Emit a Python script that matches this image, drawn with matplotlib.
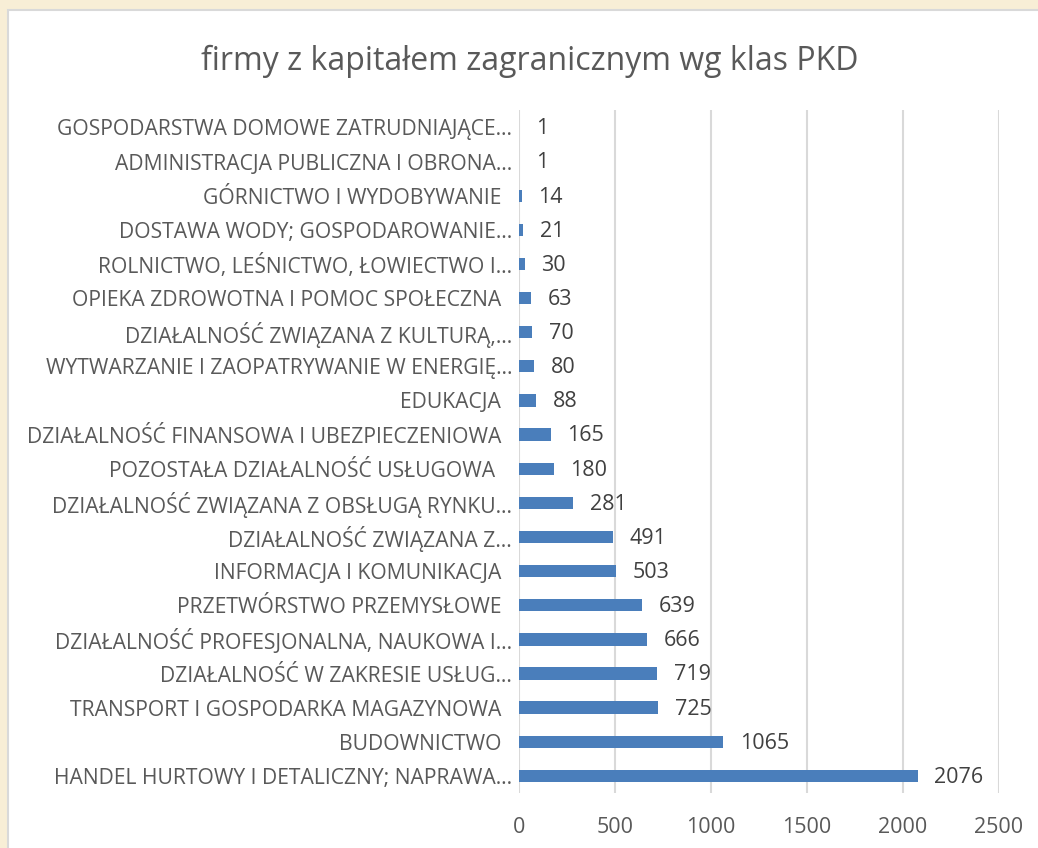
import matplotlib.pyplot as plt
from matplotlib.patches import Rectangle

plt.rcParams['font.family'] = ['Open Sans', 'DejaVu Sans']

kategorie = [
    "GOSPODARSTWA DOMOWE ZATRUDNIAJĄCE…",
    "ADMINISTRACJA PUBLICZNA I OBRONA…",
    "GÓRNICTWO I WYDOBYWANIE  ",
    "DOSTAWA WODY; GOSPODAROWANIE…",
    "ROLNICTWO, LEŚNICTWO, ŁOWIECTWO I…",
    "OPIEKA ZDROWOTNA I POMOC SPOŁECZNA  ",
    "DZIAŁALNOŚĆ ZWIĄZANA Z KULTURĄ,…",
    "WYTWARZANIE I ZAOPATRYWANIE W ENERGIĘ…",
    "EDUKACJA  ",
    "DZIAŁALNOŚĆ FINANSOWA I UBEZPIECZENIOWA  ",
    "POZOSTAŁA DZIAŁALNOŚĆ USŁUGOWA   ",
    "DZIAŁALNOŚĆ ZWIĄZANA Z OBSŁUGĄ RYNKU…",
    "DZIAŁALNOŚĆ ZWIĄZANA Z…",
    "INFORMACJA I KOMUNIKACJA  ",
    "PRZETWÓRSTWO PRZEMYSŁOWE  ",
    "DZIAŁALNOŚĆ PROFESJONALNA, NAUKOWA I…",
    "DZIAŁALNOŚĆ W ZAKRESIE USŁUG…",
    "TRANSPORT I GOSPODARKA MAGAZYNOWA  ",
    "BUDOWNICTWO  ",
    "HANDEL HURTOWY I DETALICZNY; NAPRAWA…",
]
liczba_firm = [1, 1, 14, 21, 30, 63, 70, 80, 88, 165, 180, 281, 491, 503,
               639, 666, 719, 725, 1065, 2076]
xticks = [0, 500, 1000, 1500, 2000, 2500]

fig = plt.figure(figsize=(10.38, 8.48), dpi=100)
fig.patch.set_facecolor('#F8EED6')
# white chart panel
panel = Rectangle((8/1038, -0.1), 1.2, 1 - 10/848 + 0.1,
                  transform=fig.transFigure, facecolor='white',
                  edgecolor='#D9D9D9', linewidth=1.5, zorder=-10)
fig.patches.append(panel)

ax = fig.add_axes([0.5, 0.0649, 0.4624, 0.805])
ax.set_facecolor('none')
y = list(range(len(kategorie)))[::-1]
ax.barh(y, liczba_firm, height=0.36, color='#4A7EBB', zorder=3)
for yi, v in zip(y, liczba_firm):
    ax.annotate(str(v), (v, yi), xytext=(12, -1), textcoords='offset points',
                va='center', ha='left', fontsize=15.5, color='#404040')

ax.set_yticks(y)
ax.set_yticklabels(kategorie, fontsize=15.2, color='#595959')
ax.set_ylim(-0.5, len(kategorie) - 0.5)
ax.set_xlim(0, 2500)
ax.set_xticks(xticks)
ax.set_xticklabels([str(t) for t in xticks], fontsize=15.5, color='#595959')
ax.tick_params(axis='both', length=0)
ax.tick_params(axis='y', pad=5)
ax.tick_params(axis='x', pad=17)
ax.grid(axis='x', color='#D9D9D9', linewidth=1.5, zorder=0)
for s in ax.spines.values():
    s.set_visible(False)

fig.text(530/1038, 1 - 61/848, "firmy z kapitałem zagranicznym wg klas PKD",
         ha='center', va='center', fontsize=23, color='#595959')

fig.savefig('out.png', dpi=100, facecolor=fig.get_facecolor())
